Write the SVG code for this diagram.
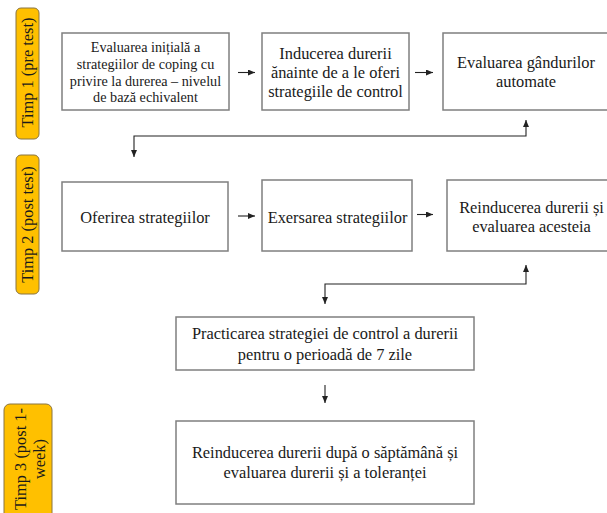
<svg xmlns="http://www.w3.org/2000/svg" width="607" height="513" viewBox="0 0 607 513">
<style>
  .box{fill:#fff;stroke:#7f7f7f;stroke-width:1.5}
  .pill{fill:#FFC000;stroke:#8a7440;stroke-width:1}
  .t{font-family:"Liberation Serif","Times New Roman",serif;font-size:16.4px;fill:#1a1a1a;text-anchor:middle}
  .s{font-size:14.2px}
  .c{fill:none;stroke:#222;stroke-width:1.1}
</style>
<defs>
  <marker id="ah" markerUnits="userSpaceOnUse" markerWidth="8" markerHeight="7" refX="7" refY="3" orient="auto-start-reverse">
    <path d="M0,0 L7,3 L0,6 z" fill="#222"/>
  </marker>
</defs>
<rect width="607" height="513" fill="#fff"/>

<g id="timp1">
  <rect class="pill" x="16" y="8" width="23" height="131" rx="5"/>
  <text class="t" transform="translate(33,72.5) rotate(-90)">Timp 1 (pre test)</text>
</g>
<g id="timp2">
  <rect class="pill" x="16" y="155" width="23" height="139" rx="5"/>
  <text class="t" transform="translate(33,224.5) rotate(-90)">Timp 2 (post test)</text>
</g>
<g id="timp3">
  <rect class="pill" x="4" y="404" width="48" height="116" rx="6"/>
  <text class="t" transform="translate(25.5,459) rotate(-90)"><tspan x="0" y="0">Timp 3 (post 1-</tspan><tspan x="0" y="19">week)</tspan></text>
</g>

<g id="n1">
  <rect class="box" x="62" y="33" width="167" height="77"/>
  <text class="t s"><tspan x="145.5" y="51.5">Evaluarea inițială a</tspan><tspan x="145.5" y="68.5">strategiilor de coping cu</tspan><tspan x="145.5" y="85.5">privire la durerea – nivelul</tspan><tspan x="145.5" y="102.3">de bază echivalent</tspan></text>
</g>
<g id="n2">
  <rect class="box" x="262" y="33" width="147" height="77"/>
  <text class="t"><tspan x="335.5" y="58.5">Inducerea durerii</tspan><tspan x="335.5" y="77.5">ănainte de a le oferi</tspan><tspan x="335.5" y="96.5">strategiile de control</tspan></text>
</g>
<g id="n3">
  <rect class="box" x="443" y="33" width="166" height="77"/>
  <text class="t"><tspan x="526" y="68.3">Evaluarea gândurilor</tspan><tspan x="526" y="87.3">automate</tspan></text>
</g>
<g id="n4">
  <rect class="box" x="62" y="182" width="166" height="69"/>
  <text class="t" x="145" y="223">Oferirea strategiilor</text>
</g>
<g id="n5">
  <rect class="box" x="262" y="180" width="150" height="71"/>
  <text class="t" x="337.5" y="223">Exersarea strategiilor</text>
</g>
<g id="n6">
  <rect class="box" x="447" y="180" width="169" height="71"/>
  <text class="t"><tspan x="531.5" y="212.7">Reinducerea durerii și</tspan><tspan x="531.5" y="231.7">evaluarea acesteia</tspan></text>
</g>
<g id="n7">
  <rect class="box" x="176" y="317" width="298" height="53"/>
  <text class="t"><tspan x="325" y="339.3">Practicarea strategiei de control a durerii</tspan><tspan x="325" y="360">pentru o perioadă de 7 zile</tspan></text>
</g>
<g id="n8">
  <rect class="box" x="176" y="421" width="298" height="83"/>
  <text class="t"><tspan x="325" y="458.3">Reinducerea durerii după o săptămână și</tspan><tspan x="325" y="478.3">evaluarea durerii și a toleranței</tspan></text>
</g>

<g id="connectors">
  <path class="c" d="M238,72.5 H255" marker-end="url(#ah)"/>
  <path class="c" d="M415,72.5 H433" marker-end="url(#ah)"/>
  <path class="c" d="M526,120 V136 H134 V157" marker-start="url(#ah)" marker-end="url(#ah)"/>
  <path class="c" d="M238,216 H255" marker-end="url(#ah)"/>
  <path class="c" d="M417,214.5 H433" marker-end="url(#ah)"/>
  <path class="c" d="M526,265 V284 H325 V304" marker-start="url(#ah)" marker-end="url(#ah)"/>
  <path class="c" d="M325,385 V403" marker-end="url(#ah)"/>
</g>
</svg>
